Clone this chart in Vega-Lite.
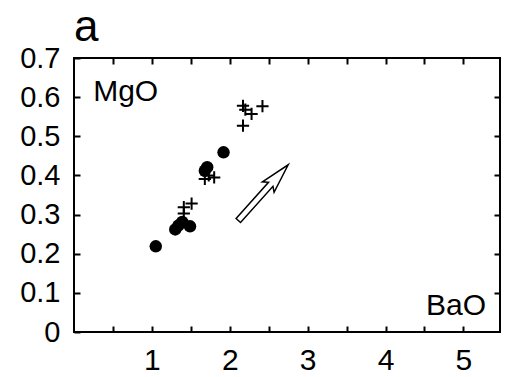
{
  "$schema": "https://vega.github.io/schema/vega-lite/v6.json",
  "width": 426,
  "height": 274,
  "autosize": {"type": "none"},
  "padding": {"left": 74, "top": 58, "right": 7, "bottom": 45},
  "background": "white",
  "config": {
    "view": {"stroke": "black", "strokeWidth": 2},
    "font": "Liberation Sans",
    "axis": {
      "domain": false,
      "grid": false,
      "tickColor": "black",
      "tickWidth": 2,
      "tickSize": -6,
      "labelColor": "black",
      "labelFont": "Liberation Sans",
      "labelOverlap": false,
      "labelFlush": false,
      "title": null
    }
  },
  "datasets": {
    "points": [
      {"x": 1.05, "y": 0.219, "kind": "circle"},
      {"x": 1.30, "y": 0.262, "kind": "circle"},
      {"x": 1.34, "y": 0.272, "kind": "circle"},
      {"x": 1.39, "y": 0.281, "kind": "circle"},
      {"x": 1.49, "y": 0.270, "kind": "circle"},
      {"x": 1.68, "y": 0.412, "kind": "circle"},
      {"x": 1.71, "y": 0.421, "kind": "circle"},
      {"x": 1.92, "y": 0.459, "kind": "circle"},
      {"x": 2.17, "y": 0.578, "kind": "plus"},
      {"x": 2.20, "y": 0.568, "kind": "plus"},
      {"x": 2.28, "y": 0.557, "kind": "plus"},
      {"x": 2.42, "y": 0.577, "kind": "plus"},
      {"x": 2.17, "y": 0.527, "kind": "plus"},
      {"x": 1.68, "y": 0.391, "kind": "plus"},
      {"x": 1.73, "y": 0.400, "kind": "plus"},
      {"x": 1.80, "y": 0.395, "kind": "plus"},
      {"x": 1.41, "y": 0.319, "kind": "plus"},
      {"x": 1.51, "y": 0.328, "kind": "plus"},
      {"x": 1.41, "y": 0.303, "kind": "plus"}
    ],
    "arrow": [
      {"x": 2.43, "y": 0.356}
    ],
    "labels": [
      {"x": 0.246, "y": 0.591, "text": "MgO", "align": "left"},
      {"x": 5.29, "y": 0.0426, "text": "BaO", "align": "right"}
    ],
    "panel": [
      {"x": 0.0, "y": 0.744, "text": "a"}
    ]
  },
  "resolve": {"axis": {"x": "independent", "y": "independent"}},
  "layer": [
    {
      "data": {"name": "points"},
      "transform": [{"filter": "datum.kind === 'circle'"}],
      "mark": {"type": "point", "shape": "circle", "filled": true, "color": "black", "size": 155, "opacity": 1},
      "encoding": {
        "x": {
          "field": "x", "type": "quantitative",
          "scale": {"domain": [0, 5.47], "nice": false, "zero": false},
          "axis": {
            "orient": "bottom",
            "values": [0.5, 1, 1.5, 2, 2.5, 3, 3.5, 4, 4.5, 5],
            "format": ".1~f",
            "labelExpr": "datum.value % 1 === 0 ? datum.label : ''",
            "labelFontSize": 30,
            "labelPadding": 19,
            "labelBaseline": "top"
          }
        },
        "y": {
          "field": "y", "type": "quantitative",
          "scale": {"domain": [0, 0.7], "nice": false, "zero": false},
          "axis": {
            "orient": "left",
            "values": [0, 0.1, 0.2, 0.3, 0.4, 0.5, 0.6, 0.7],
            "format": ".1~f",
            "labelFontSize": 29,
            "labelPadding": 20,
            "labelBaseline": "middle"
          }
        }
      }
    },
    {
      "data": {"name": "points"},
      "transform": [{"filter": "datum.kind === 'plus'"}],
      "mark": {"type": "point", "shape": "M-1,0L1,0M0,-1L0,1", "filled": false, "stroke": "black", "strokeWidth": 2, "size": 150, "opacity": 1},
      "encoding": {
        "x": {
          "field": "x", "type": "quantitative",
          "scale": {"domain": [0, 5.47], "nice": false, "zero": false},
          "axis": {
            "orient": "top",
            "values": [0.5, 1, 1.5, 2, 2.5, 3, 3.5, 4, 4.5, 5],
            "labels": false
          }
        },
        "y": {
          "field": "y", "type": "quantitative",
          "scale": {"domain": [0, 0.7], "nice": false, "zero": false},
          "axis": {
            "orient": "right",
            "values": [0.1, 0.2, 0.3, 0.4, 0.5, 0.6],
            "labels": false
          }
        }
      }
    },
    {
      "data": {"name": "arrow"},
      "mark": {"type": "point", "shape": "M-1,-0.08L0.3,-0.08L0.2,-0.21L1,0L0.2,0.21L0.3,0.08L-1,0.08Z", "filled": true, "fill": "white", "stroke": "black", "strokeWidth": 1.5, "size": 5600, "angle": 311.8, "opacity": 1, "fillOpacity": 1},
      "encoding": {
        "x": {"field": "x", "type": "quantitative", "axis": null},
        "y": {"field": "y", "type": "quantitative", "axis": null}
      }
    },
    {
      "data": {"name": "labels"},
      "transform": [{"filter": "datum.align === 'left'"}],
      "mark": {"type": "text", "fontSize": 30, "baseline": "alphabetic", "align": "left", "color": "black", "font": "Liberation Sans"},
      "encoding": {
        "x": {"field": "x", "type": "quantitative", "axis": null},
        "y": {"field": "y", "type": "quantitative", "axis": null},
        "text": {"field": "text"}
      }
    },
    {
      "data": {"name": "labels"},
      "transform": [{"filter": "datum.align === 'right'"}],
      "mark": {"type": "text", "fontSize": 30, "baseline": "alphabetic", "align": "right", "color": "black", "font": "Liberation Sans"},
      "encoding": {
        "x": {"field": "x", "type": "quantitative", "axis": null},
        "y": {"field": "y", "type": "quantitative", "axis": null},
        "text": {"field": "text"}
      }
    },
    {
      "data": {"name": "panel"},
      "mark": {"type": "text", "fontSize": 44, "baseline": "alphabetic", "align": "left", "color": "black", "font": "Liberation Sans", "clip": false},
      "encoding": {
        "x": {"field": "x", "type": "quantitative", "axis": null},
        "y": {"field": "y", "type": "quantitative", "axis": null},
        "text": {"field": "text"}
      }
    }
  ]
}
